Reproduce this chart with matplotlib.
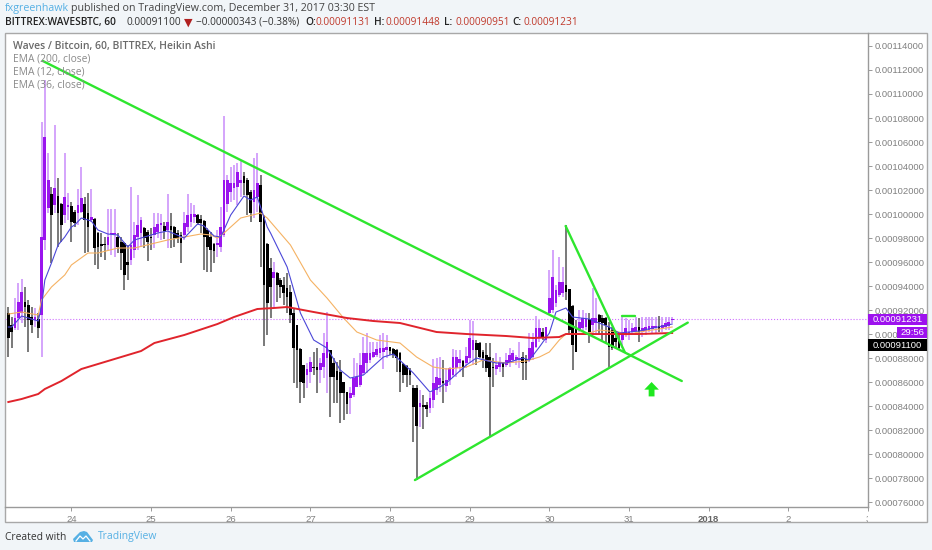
"""
TradingView snapshot: WAVES/BTC 60 min Heikin Ashi with three EMAs and hand drawn trendlines.
"""

import numpy as np
import matplotlib

matplotlib.use("Agg")
import matplotlib.pyplot as plt
from matplotlib.patches import Rectangle, Polygon
from matplotlib.transforms import Bbox

plt.rcParams["font.family"] = ["Open Sans", "DejaVu Sans"]

W, H = 932, 550
SCALE = 1e-8  # prices below are written in 1e-8 BTC

# one candle per hour, hour 0 = Dec 24 00:00
direction = (
    "bbuuubbbub" "uuububbuub" "buubbubbbb" "uuubbbbuuu" "ubbbuuubub"
    "bbbuuuubbb" "bbbuuuuuuu" "ubbbuubbbb" "ubbbbbbbbb" "uubbuuubbb"
    "bbbuuuuuuu" "uuuuubbbbb" "bbbbubbuuu" "ubuuuuubuu" "ubbbbbbuub"
    "uuuuubbuuu" "ubuuuuuubb" "bbuuubuubb" "bbbbbuuuuu" "buuuuubuuuu"
)

wick_high = [
    92250, 91420, 93000, 94250, 94580, 93920, 92830, 92250, 92170, 91750,
    107670, 111170, 105080, 102250, 107420, 103000, 100920, 105080, 101750, 101000,
    100330, 102080, 103920, 101420, 101750, 102080, 99670, 98500, 98420, 98080,
    100420, 100420, 100420, 98420, 98080, 97670, 97420, 102250, 99330, 101580,
    99750, 98920, 98670, 98830, 100080, 100080, 100000, 99330, 101670, 100080,
    99000, 98670, 98500, 100170, 101670, 100920, 100750, 100000, 99920, 99500,
    98830, 98500, 97580, 98670, 100580, 108170, 103250, 103920, 104080, 104250,
    104500, 103500, 103000, 102000, 104670, 105080, 103250, 99920, 97580, 96330,
    96000, 95170, 94670, 94750, 95080, 94080, 92170, 90750, 88830, 87420,
    87580, 88080, 88500, 88830, 88000, 90080, 91830, 88670, 88000, 87670,
    87830, 86000, 85170, 85580, 88000, 87580, 88420, 89750, 90080, 89330,
    89330, 89330, 89920, 90080, 89920, 88920, 88830, 88750, 88500, 87580,
    87420, 87170, 85750, 85750, 85330, 84920, 84330, 85080, 87920, 88000,
    88080, 87830, 87170, 87250, 88750, 88670, 88670, 87830, 88920, 91170,
    91080, 89500, 89330, 88670, 89250, 89250, 88000, 88420, 88080, 87670,
    88420, 88830, 88670, 88250, 89330, 88500, 88250, 90080, 90080, 91500,
    91170, 90500, 90580, 95330, 97000, 94080, 96420, 95580, 99080, 93750,
    92420, 91170, 92000, 92000, 91750, 91750, 93830, 93000, 91670, 91580,
    91420, 91000, 90580, 90170, 89920, 91420, 91330, 91170, 90920, 91420,
    91330, 91420, 91420, 91420, 91420, 91420, 91500, 91420, 91420, 91420, 91448,
]

body_top = [
    91750, 90750, 91330, 92670, 93500, 92670, 92420, 91420, 91420, 91250,
    98080, 106420, 102830, 101670, 102170, 101500, 100830, 101420, 100750, 100670,
    100170, 100750, 101330, 100830, 100080, 99750, 99580, 98420, 97500, 97500,
    98080, 98420, 98420, 98080, 97670, 97580, 96000, 97420, 98250, 99080,
    99500, 98830, 98500, 98080, 98920, 99170, 99250, 99000, 99330, 99000,
    98920, 98420, 98250, 99250, 99920, 100000, 100000, 99920, 99580, 99420,
    98670, 98080, 97500, 97580, 98920, 102830, 102830, 102580, 102580, 103500,
    102830, 103170, 102830, 101830, 102000, 102580, 102420, 99830, 97500, 95500,
    95170, 95080, 94500, 94080, 93830, 93500, 91750, 90750, 88750, 87420,
    87080, 87670, 87250, 87250, 87580, 88420, 89330, 88670, 87580, 86920,
    86830, 86000, 85170, 85080, 86330, 86420, 87420, 88420, 88420, 88420,
    88500, 88750, 88830, 88830, 88920, 88920, 88750, 88670, 88420, 87500,
    87330, 87000, 85500, 85500, 84250, 84080, 84080, 84670, 85920, 86420,
    86330, 86080, 86170, 87170, 88080, 88080, 87920, 87750, 88170, 89670,
    89500, 89250, 89250, 88500, 88250, 88080, 87250, 87420, 87670, 87580,
    87830, 88250, 88420, 88080, 88000, 88080, 87920, 88830, 89330, 90500,
    90500, 90170, 90580, 93000, 94750, 93670, 94330, 94330, 94080, 93750,
    92330, 90580, 91000, 91330, 91250, 91250, 91330, 91330, 91580, 91330,
    91330, 90580, 90330, 89670, 89500, 90080, 90500, 90170, 90500, 90580,
    90580, 90500, 90580, 90670, 90670, 90670, 90670, 90750, 90920, 91000, 91231,
]

body_bot = [
    89670, 90170, 90500, 91330, 91750, 92250, 91170, 90750, 91170, 90500,
    91580, 97830, 100500, 99920, 100750, 100080, 99080, 99920, 100580, 99330,
    99250, 100080, 100170, 99500, 98920, 99500, 97170, 97250, 97330, 97420,
    97420, 98330, 98330, 97250, 96750, 94920, 95750, 96170, 97000, 98080,
    98420, 98000, 97670, 98000, 98250, 98500, 99080, 98580, 98670, 98670,
    98000, 98000, 97580, 98250, 98920, 99330, 99750, 99250, 99250, 98080,
    97250, 97000, 96920, 97420, 97250, 98250, 100830, 101830, 102170, 102250,
    102580, 102580, 101580, 100080, 101000, 101420, 99330, 94080, 92580, 93920,
    94670, 94080, 93920, 93420, 93080, 91580, 88830, 88670, 86000, 85920,
    86580, 86830, 87170, 87000, 87000, 87250, 88000, 86420, 86420, 86170,
    85080, 85080, 84170, 84670, 84920, 85580, 85750, 86750, 87580, 87830,
    88080, 88250, 88420, 88500, 88670, 88580, 88250, 88000, 86830, 86580,
    86580, 86580, 83920, 82330, 83920, 83920, 83750, 83830, 84500, 85330,
    85750, 85920, 85670, 86170, 86580, 87170, 87580, 87170, 87580, 88000,
    88670, 88670, 88080, 88000, 87170, 86420, 87170, 87080, 87250, 87250,
    87420, 87670, 87830, 87830, 87830, 87580, 87580, 87830, 88080, 88920,
    89670, 89750, 89500, 91750, 92000, 92580, 93250, 93420, 93500, 90330,
    89080, 88500, 90330, 90500, 90580, 90170, 90750, 90920, 91000, 90920,
    90750, 88920, 88830, 89330, 88830, 89500, 89920, 90080, 90170, 90250,
    90170, 90170, 90250, 90330, 90420, 90500, 90420, 90500, 90580, 90670, 91131,
]

wick_low = [
    88080, 88830, 90330, 90330, 90920, 90580, 88500, 90080, 90580, 89670,
    88080, 97000, 100080, 95920, 100080, 97250, 97670, 99250, 99500, 97670,
    98920, 99080, 100080, 96750, 96830, 99330, 95750, 95420, 96420, 96170,
    97000, 96580, 96420, 96750, 95330, 93670, 94500, 95750, 96330, 97000,
    97250, 97170, 96080, 97000, 97170, 98000, 97830, 97920, 97170, 97170,
    97250, 97580, 95920, 97830, 98500, 98920, 99250, 99080, 98420, 95330,
    95170, 95170, 95920, 96420, 96830, 98080, 100170, 101000, 101170, 100750,
    101420, 101580, 99920, 99330, 99670, 100170, 95580, 89000, 89920, 91330,
    92250, 92670, 93000, 92420, 91750, 90920, 85920, 85500, 84250, 84670,
    85500, 85920, 86580, 85080, 85920, 86330, 85080, 83080, 84250, 84250,
    82580, 82830, 83330, 83330, 84750, 85580, 85580, 86580, 86750, 87580,
    88000, 88080, 88000, 87080, 88000, 88250, 88000, 86830, 85170, 85920,
    85580, 85750, 81000, 77830, 82250, 82080, 83080, 83420, 83830, 84920,
    85170, 84250, 85170, 85750, 86420, 86420, 86830, 86420, 87170, 87580,
    87420, 87420, 88000, 87170, 86830, 81500, 85580, 86580, 86830, 86420,
    87250, 87250, 87580, 87420, 87170, 86170, 86170, 87670, 87830, 88830,
    89330, 89500, 89250, 91580, 91750, 92250, 93080, 93080, 92830, 89920,
    87000, 88500, 90170, 90170, 90330, 89250, 89920, 90080, 89920, 89500,
    89250, 87250, 88670, 88830, 88670, 88830, 89750, 89500, 89920, 89920,
    89330, 89750, 89920, 90170, 90080, 90080, 90170, 90170, 90330, 90330, 90951,
]

ema200_hours = [-19, -15, -10, -8, -3, 3, 14, 21, 25, 34, 44, 49, 56, 61, 65, 73, 83, 91, 99,
                110, 119, 131, 139, 147, 149, 156, 165, 171, 181]
ema200_price = [84333, 84583, 85000, 85417, 86083, 87083, 88000, 88583, 89250, 89917, 90833,
                91417, 92083, 92167, 92250, 91833, 91333, 91083, 90917, 90167, 90000, 89833,
                89667, 89750, 90000, 90000, 90000, 90000, 90083]

ema36_hours = [-19, -15, -10, -9, -6, -2, 0, 5, 8, 14, 19, 24, 29, 34, 39, 42, 44, 46, 51, 57,
               59, 66, 72, 77, 82, 86, 92, 99, 104, 109, 113, 119, 124, 131, 137, 141, 144,
               147, 149, 156, 159, 165, 167, 171, 181]
ema36_price = [91667, 91833, 91583, 92833, 93917, 94917, 95750, 96750, 96750, 97167, 97167,
               97500, 97833, 98083, 98333, 98250, 98000, 98417, 99667, 100083, 99667, 97417,
               94500, 93000, 91333, 90167, 89500, 89250, 88083, 87250, 87083, 87250, 87833,
               87583, 87750, 88083, 88500, 89500, 90000, 90083, 90333, 90167, 89917, 90167,
               90583]

ema12_hours = [-19, -18, -15, -10, -9, -8, -6, -4, -2, 0, 1, 3, 6, 8, 11, 14, 17, 19, 22, 26,
               29, 34, 38, 40, 43, 45, 48, 52, 54, 56, 59, 60, 65, 69, 73, 77, 81, 84, 88, 94,
               97, 103, 108, 111, 113, 119, 122, 128, 131, 136, 138, 141, 144, 146, 149, 151,
               156, 162, 165, 168, 171, 181]
ema12_price = [90583, 90583, 91500, 91083, 92250, 94500, 95917, 97417, 98083, 98917, 99083,
               99667, 99417, 98667, 98333, 98250, 97250, 97833, 98083, 98417, 98583, 98000,
               99167, 99000, 98167, 98083, 99917, 101500, 101167, 101417, 98917, 98417, 95583,
               91750, 89500, 88833, 87000, 86333, 86583, 88083, 88333, 86750, 85167, 85583,
               85917, 87417, 88000, 87583, 87583, 88000, 87833, 88917, 90083, 91833, 92167,
               91417, 91250, 90583, 90083, 90167, 90250, 90833]

# drawn trendlines: (hour start, hour end, price start, price end)
trend_lines = [
    (-8.6, 183.9, 112750, 86083),
    (103.5, 185.7, 77830, 90950),
    (148.9, 166.7, 99000, 88500),
    (165.8, 169.7, 91500, 91500),
]

last_price = 91231
y_ticks = [v * 2000 for v in range(38, 58)]
x_tick_hours = [0, 24, 48, 72, 96, 120, 144, 168, 192, 216, 240]
x_tick_labels = ["24", "25", "26", "27", "28", "29", "30", "31", "2018", "2", "3"]


def fx(px):
    return px / W


def fy(py):
    return 1 - py / H


def label(x, y, text, color="#444444", size=7.7, weight="normal", ha="left", **kw):
    return fig.text(fx(x), fy(y), text, color=color, fontsize=size, fontweight=weight,
                    ha=ha, va="center", **kw)


def box(x0, y0, x1, y1, color, **kw):
    r = Rectangle((fx(x0), fy(y1)), fx(x1) - fx(x0), fy(y0) - fy(y1), transform=fig.transFigure,
                  facecolor=color, **kw)
    fig.add_artist(r)
    return r


fig = plt.figure(figsize=(W / 100, H / 100), dpi=100, facecolor="#f1f5f8")

# chart frame
box(5, 33, 927, 522, "white", edgecolor="#a8a8a8", linewidth=1.0, zorder=0)

ax = fig.add_axes([fx(5), fy(507), fx(868) - fx(5), fy(33) - fy(507)])
ax.patch.set_alpha(0)
ax.set_zorder(1)

hours = np.arange(len(direction)) - 19
is_up = np.array([c == "u" for c in direction])
w_hi = np.array(wick_high) * SCALE
w_lo = np.array(wick_low) * SCALE
b_top = np.array(body_top) * SCALE
b_bot = np.array(body_bot) * SCALE

ax.axhline(last_price * SCALE, color="#d070ff", linestyle=":", linewidth=0.8, zorder=1)

ax.vlines(hours[is_up], w_lo[is_up], w_hi[is_up], color="#c98cfa", linewidth=1.1, zorder=2)
ax.vlines(hours[~is_up], w_lo[~is_up], w_hi[~is_up], color="#555555", linewidth=1.1, zorder=2)
ax.bar(hours[is_up], (b_top - b_bot)[is_up], bottom=b_bot[is_up], width=0.82, color="#9a14ee",
       linewidth=0, zorder=3)
ax.bar(hours[~is_up], (b_top - b_bot)[~is_up], bottom=b_bot[~is_up], width=0.82, color="black",
       linewidth=0, zorder=3)

ax.plot(ema36_hours, np.array(ema36_price) * SCALE, color="#f5b263", linewidth=0.8, zorder=4)
ax.plot(ema12_hours, np.array(ema12_price) * SCALE, color="#4b47d8", linewidth=0.8, zorder=4)
ax.plot(ema200_hours, np.array(ema200_price) * SCALE, color="#e0242c", linewidth=1.4, zorder=5)

for h0, h1, p0, p1 in trend_lines:
    ax.plot([h0, h1], [p0 * SCALE, p1 * SCALE], color="#2ee62e", linewidth=1.7,
            solid_capstyle="round", zorder=6)

# green arrow
ax.annotate("", xy=(174.8, 86000 * SCALE), xytext=(174.8, 84800 * SCALE),
            arrowprops=dict(arrowstyle="simple,head_width=1.05,head_length=0.55,tail_width=0.42",
                            color="#1fe81f", linewidth=0, shrinkA=0, shrinkB=0), zorder=7)

ax.set_xlim(-20, 239.9)
ax.set_ylim(75585 * SCALE, 115083 * SCALE)

ax.yaxis.tick_right()
ax.set_yticks([v * SCALE for v in y_ticks])
ax.set_yticklabels([f"{v * SCALE:.8f}" for v in y_ticks], fontsize=6.8, color="#808080",
                   family="Liberation Sans")
ax.set_xticks(x_tick_hours)
ax.set_xticklabels(x_tick_labels, fontsize=6.8, color="#808080", family="Liberation Sans")
ax.tick_params(axis="both", length=3, width=0.7, color="#999999")
ax.tick_params(axis="y", pad=2)
ax.tick_params(axis="x", pad=3)
for lab in ax.get_xticklabels():
    if lab.get_text() == "2018":
        lab.set_fontweight("bold")
        lab.set_color("#666666")
    if lab.get_text() == "3":
        # cut off by the price scale
        lab.set_clip_box(Bbox([[5, 0], [868, 550]]))
        lab.set_clip_on(True)
for s in ax.spines.values():
    s.set_color("#9a9a9a")
    s.set_linewidth(1.0)
ax.spines["left"].set_visible(False)
ax.spines["top"].set_visible(False)

# legend block
label(13, 46, "Waves / Bitcoin, 60, BITTREX, Heikin Ashi", color="#6a6a6a", size=7.45, weight="semibold")
label(13, 59, "EMA (200, close)", color="#8a8a8a", size=7.4)
label(13, 72, "EMA (12, close)", color="#8a8a8a", size=7.4)
label(13, 85, "EMA (36, close)", color="#8a8a8a", size=7.4)

# price scale badges
box(868, 314, 927, 325, "#9d12ee", zorder=3)
label(897.5, 319.5, "0.00091231", color="white", size=6.8, ha="center", family="Liberation Sans",
      zorder=4)
box(897, 327, 927, 338, "#9d12ee", zorder=3)
label(912, 332.5, "29:56", color="white", size=6.8, ha="center", family="Liberation Sans", zorder=4)
box(868, 339, 927, 351, "black", zorder=3)
label(897.5, 345, "0.00091100", color="white", size=6.8, ha="center", family="Liberation Sans",
      zorder=4)

# header
label(5, 9, "fxgreenhawk", color="#56b0e4", size=7.7)
label(71, 9, "published on TradingView.com, December 31, 2017 03:30 EST", color="#444444", size=7.7)
label(5, 22.5, "BITTREX:WAVESBTC, 60", color="#222222", size=7.3, weight="semibold")
label(126, 22.5, "0.00091100", color="#333333", size=7.3)
label(184, 22.5, "▼", color="#b02020", size=8, family="DejaVu Sans")
label(196, 22.5, "−0.00000343 (−0.38%)", color="#333333", size=7.3)
ohlc = [(305, "O:", "0.00091131"), (374, "H:", "0.00091448"), (444, "L:", "0.00090951"),
        (512, "C:", "0.00091231")]
for x, name, val in ohlc:
    label(x, 22.5, name, color="#222222", size=7.3, weight="semibold")
    label(x + 11, 22.5, val, color="#c0392b", size=7.3)

# footer
label(5, 537, "Created with", color="#333333", size=7.4)
label(98, 537, "TradingView", color="#56b0e4", size=7.5)
logo_x = [73, 77, 80, 84, 87, 90, 93, 92, 85, 79, 74]
logo_y = [539, 535, 532, 531, 532, 536, 540, 542, 542, 542, 542]
fig.add_artist(Polygon(np.column_stack([fx(np.array(logo_x)), fy(np.array(logo_y))]),
                       transform=fig.transFigure, facecolor="#56b0e4", edgecolor="none"))
fig.add_artist(plt.Line2D(fx(np.array([76, 80, 83, 86, 90])), fy(np.array([541, 536, 539, 536, 541])),
                          transform=fig.transFigure, color="white", linewidth=0.9))

fig.savefig("out.png", dpi=100, facecolor=fig.get_facecolor())
